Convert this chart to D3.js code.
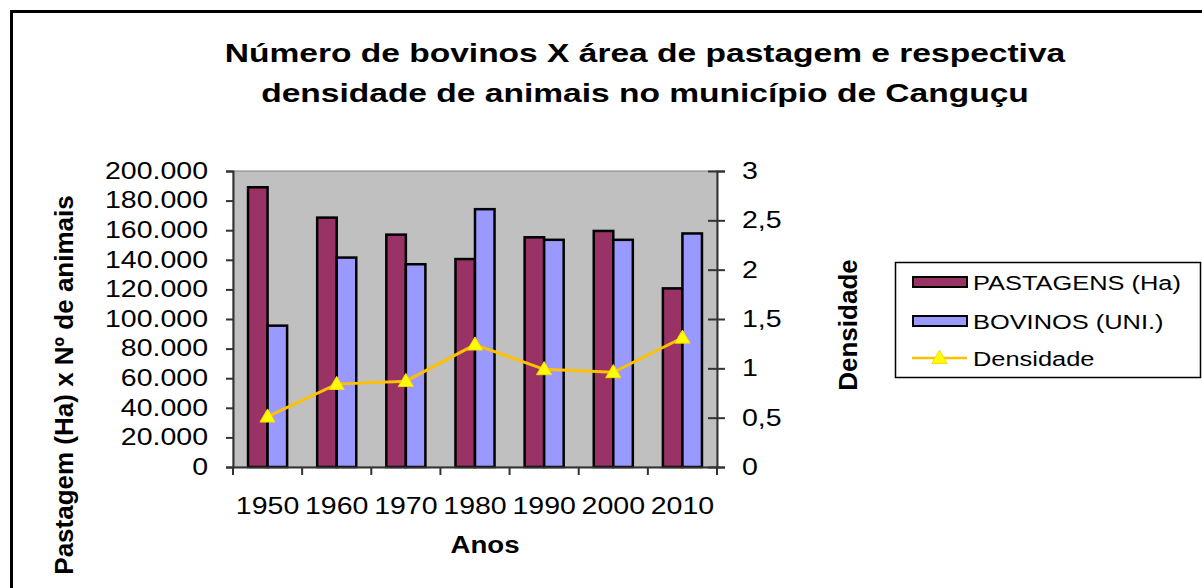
<!DOCTYPE html>
<meta charset="utf-8">
<head>
  <title>Bovinos x pastagem - Canguçu</title>
</head>
<style>
    body { margin: 0; background: #fff; }
    svg text { font-family: "Liberation Sans", Arial, sans-serif; fill: #000; }
    .bold { font-weight: bold; }
</style>
<body>
<svg id="chart" width="1202" height="588"></svg>
<script src="https://cdn.jsdelivr.net/npm/d3@7"></script>
<script>
    // data
    var anos = ["1950", "1960", "1970", "1980", "1990", "2000", "2010"];
    var pastagens = [189000, 168500, 157000, 140500, 155200, 159500, 120700];
    var bovinos = [95500, 141500, 137000, 174200, 153500, 153500, 157800];
    var densidade = [0.51, 0.84, 0.87, 1.24, 0.99, 0.96, 1.31];
    var leftTicks = [0, 20000, 40000, 60000, 80000, 100000, 120000, 140000, 160000, 180000, 200000];
    var rightTicks = [0, 0.5, 1, 1.5, 2, 2.5, 3];
    var seriesNames = ["PASTAGENS (Ha)", "BOVINOS (UNI.)", "Densidade"];

    var colPast = "#993366", colBov = "#9999FF", colLine = "#FFC000", colTri = "#FFFF00";

    var svg = d3.select("#chart");

    var pL = 233, pR = 717, pT = 171, pB = 467;

    // horizontal stretch used for the (wide) text in the picture
    function wide(sel, sx) {
        sel.each(function() {
            var t = d3.select(this);
            var x = +t.attr("x") || 0;
            t.attr("x", x / sx).attr("transform", "scale(" + sx + ",1)");
        });
    }

    // outer frame
    svg.append("rect")
        .attr("x", 11.5).attr("y", 11.5)
        .attr("width", 1300).attr("height", 800)
        .attr("fill", "none").attr("stroke", "#000").attr("stroke-width", 3);

    // title
    var title = svg.append("g").attr("class", "bold").style("font-size", "26px");
    title.append("text").attr("x", 645).attr("y", 62).attr("text-anchor", "middle")
        .text("Número de bovinos X área de pastagem e respectiva");
    title.append("text").attr("x", 645).attr("y", 102).attr("text-anchor", "middle")
        .text("densidade de animais no município de Canguçu");
    wide(title.selectAll("text"), 1.29);

    var x0 = d3.scaleBand().domain(anos).range([pL, pR]).padding(0);
    var x1 = d3.scaleBand().domain([0, 1]).range([0, x0.bandwidth()]).paddingInner(0).paddingOuter(0.77);
    var y = d3.scaleLinear().domain([0, 200000]).range([pB, pT]);
    var yR = d3.scaleLinear().domain([0, 3]).range([pB, pT]);

    // plot area
    svg.append("rect")
        .attr("x", pL).attr("y", pT)
        .attr("width", pR - pL).attr("height", pB - pT)
        .attr("fill", "#C0C0C0").attr("stroke", "#808080").attr("stroke-width", 1);

    // bars
    var rows = anos.map(function(a, i) { return { ano: a, vals: [pastagens[i], bovinos[i]] }; });
    var grp = svg.append("g").selectAll("g").data(rows).enter().append("g")
        .attr("transform", function(d) { return "translate(" + x0(d.ano) + ",0)"; });
    grp.selectAll("rect").data(function(d) { return d.vals; }).enter().append("rect")
        .attr("x", function(d, i) { return x1(i); })
        .attr("width", x1.bandwidth())
        .attr("y", function(d) { return y(d); })
        .attr("height", function(d) { return pB - y(d); })
        .attr("fill", function(d, i) { return i === 0 ? colPast : colBov; })
        .attr("stroke", "#000").attr("stroke-width", 2.5);

    // axes
    var ptFmt = d3.formatLocale({ decimal: ",", thousands: ".", grouping: [3], currency: ["", ""] }).format(",d");

    var axL = svg.append("g").attr("transform", "translate(" + pL + ",0)")
        .call(d3.axisLeft(y).tickValues(leftTicks).tickFormat(ptFmt).tickSize(7).tickPadding(18));
    var axR = svg.append("g").attr("transform", "translate(" + pR + ",0)")
        .call(d3.axisRight(yR).tickValues(rightTicks).tickFormat(function(d) { return String(d).replace(".", ","); })
            .tickSize(8).tickPadding(17));
    svg.append("g").attr("transform", "translate(" + pR + ",0)")
        .call(d3.axisLeft(yR).tickValues(rightTicks).tickFormat("").tickSize(9).tickSizeOuter(0))
        .select(".domain").remove();
    var axB = svg.append("g").attr("transform", "translate(0," + pB + ")")
        .call(d3.axisBottom(x0).tickSize(0).tickPadding(31));
    axB.selectAll(".tick line").remove();

    // category boundary ticks
    var bounds = anos.map(function(a) { return x0(a); }).concat([x0.range()[1]]);
    svg.append("g").selectAll("line").data(bounds).enter().append("line")
        .attr("x1", function(d) { return d; }).attr("x2", function(d) { return d; })
        .attr("y1", pB).attr("y2", pB + 8)
        .attr("stroke", "#333").attr("stroke-width", 2);

    svg.selectAll(".domain").attr("stroke", "#333").attr("stroke-width", 2);
    svg.selectAll(".tick line").attr("stroke", "#333").attr("stroke-width", 2);
    svg.selectAll(".tick text").style("font-size", "23px").style("font-family", "Liberation Sans, Arial, sans-serif");
    wide(axL.selectAll(".tick text"), 1.24);
    wide(axR.selectAll(".tick text"), 1.24);
    wide(axB.selectAll(".tick text"), 1.24);

    // density line
    var cx = function(i) { return x0(anos[i]) + x0.bandwidth() / 2; };
    var line = d3.line().x(function(d, i) { return cx(i); }).y(function(d) { return yR(d); });
    svg.append("path").datum(densidade)
        .attr("d", line).attr("fill", "none")
        .attr("stroke", colLine).attr("stroke-width", 3);
    var tri = d3.symbol().type(d3.symbolTriangle).size(100);
    svg.append("g").selectAll("path").data(densidade).enter().append("path")
        .attr("d", tri)
        .attr("transform", function(d, i) { return "translate(" + cx(i) + "," + (yR(d) + 1) + ")"; })
        .attr("fill", colTri).attr("stroke", "#FFD700").attr("stroke-width", 1);

    // axis titles
    var anosT = svg.append("text").attr("class", "bold").style("font-size", "24px")
        .attr("x", 485).attr("y", 553).attr("text-anchor", "middle").text("Anos");
    wide(anosT, 1.15);
    svg.append("text").attr("class", "bold").style("font-size", "26px")
        .attr("text-anchor", "middle")
        .attr("transform", "translate(73,385) rotate(-90)")
        .text("Pastagem (Ha) x Nº de animais");
    svg.append("text").attr("class", "bold").style("font-size", "26px")
        .attr("text-anchor", "middle")
        .attr("transform", "translate(857,325) rotate(-90)")
        .text("Densidade");

    // legend
    var lg = svg.append("g");
    lg.append("rect").attr("x", 895.5).attr("y", 262.5).attr("width", 305).attr("height", 115)
        .attr("fill", "#fff").attr("stroke", "#000").attr("stroke-width", 1.5);
    var rowY = [282, 321, 358];
    [colPast, colBov].forEach(function(c, i) {
        lg.append("rect").attr("x", 913).attr("y", rowY[i] - 5).attr("width", 54).attr("height", 10)
            .attr("fill", c).attr("stroke", "#000").attr("stroke-width", 2);
    });
    lg.append("line").attr("x1", 912).attr("x2", 967).attr("y1", rowY[2]).attr("y2", rowY[2])
        .attr("stroke", colLine).attr("stroke-width", 2.5);
    lg.append("path").attr("d", tri).attr("transform", "translate(939.5," + (rowY[2] + 1) + ")")
        .attr("fill", colTri).attr("stroke", "#FFD700").attr("stroke-width", 1);
    var lgT = lg.selectAll("text.lab").data(seriesNames).enter().append("text")
        .attr("class", "lab").style("font-size", "20px")
        .attr("x", 973).attr("y", function(d, i) { return rowY[i] + 8; })
        .text(function(d) { return d; });
    wide(lgT, 1.27);
</script>
</body>
